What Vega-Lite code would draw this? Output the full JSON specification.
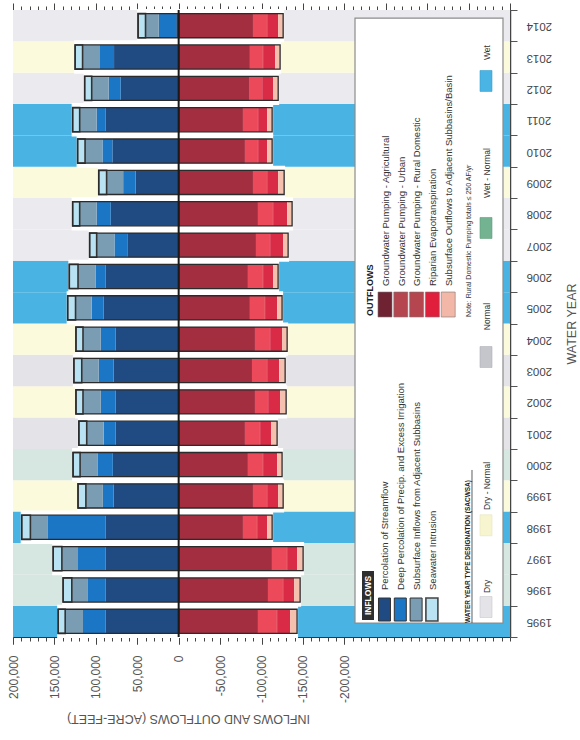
{
  "$schema": "https://vega.github.io/schema/vega-lite/v6.json",
  "width": 497,
  "height": 627,
  "autosize": {"type": "none"},
  "padding": {"left": 13, "top": 10, "right": 70, "bottom": 103},
  "background": "white",
  "config": {"view": {"stroke": null}, "font": "Liberation Sans"},
  "datasets": {
    "components": [
      {"component": "Percolation of Streamflow", "rank": 1},
      {"component": "Deep Percolation of Precip. and Excess Irrigation", "rank": 2},
      {"component": "Subsurface Inflows from Adjacent Subbasins", "rank": 3},
      {"component": "Seawater Intrusion", "rank": 4},
      {"component": "Groundwater Pumping - Agricultural", "rank": 1},
      {"component": "Groundwater Pumping - Urban", "rank": 2},
      {"component": "Groundwater Pumping - Rural Domestic", "rank": 3},
      {"component": "Riparian Evapotranspiration", "rank": 4},
      {"component": "Subsurface Outflows to Adjacent Subbasins/Basin", "rank": 5}
    ],
    "years": [
      {"year": 1995, "type": "Wet"}, {"year": 1996, "type": "Wet - Normal"}, {"year": 1997, "type": "Wet - Normal"},
      {"year": 1998, "type": "Wet"}, {"year": 1999, "type": "Dry - Normal"}, {"year": 2000, "type": "Wet - Normal"},
      {"year": 2001, "type": "Normal"}, {"year": 2002, "type": "Dry - Normal"}, {"year": 2003, "type": "Normal"},
      {"year": 2004, "type": "Dry - Normal"}, {"year": 2005, "type": "Wet"}, {"year": 2006, "type": "Wet"},
      {"year": 2007, "type": "Dry"}, {"year": 2008, "type": "Dry"}, {"year": 2009, "type": "Dry - Normal"},
      {"year": 2010, "type": "Wet"}, {"year": 2011, "type": "Wet"}, {"year": 2012, "type": "Dry"},
      {"year": 2013, "type": "Dry - Normal"}, {"year": 2014, "type": "Dry"}
    ],
    "flows": [
      {"year":1995,"flow":"Inflow","component":"Percolation of Streamflow","value":88000},
      {"year":1995,"flow":"Inflow","component":"Deep Percolation of Precip. and Excess Irrigation","value":27500},
      {"year":1995,"flow":"Inflow","component":"Subsurface Inflows from Adjacent Subbasins","value":21500},
      {"year":1995,"flow":"Inflow","component":"Seawater Intrusion","value":8500},
      {"year":1995,"flow":"Outflow","component":"Groundwater Pumping - Agricultural","value":-95700},
      {"year":1995,"flow":"Outflow","component":"Groundwater Pumping - Urban","value":-22900},
      {"year":1995,"flow":"Outflow","component":"Groundwater Pumping - Rural Domestic","value":-250},
      {"year":1995,"flow":"Outflow","component":"Riparian Evapotranspiration","value":-15700},
      {"year":1995,"flow":"Outflow","component":"Subsurface Outflows to Adjacent Subbasins/Basin","value":-8400},
      {"year":1996,"flow":"Inflow","component":"Percolation of Streamflow","value":88000},
      {"year":1996,"flow":"Inflow","component":"Deep Percolation of Precip. and Excess Irrigation","value":21500},
      {"year":1996,"flow":"Inflow","component":"Subsurface Inflows from Adjacent Subbasins","value":19500},
      {"year":1996,"flow":"Inflow","component":"Seawater Intrusion","value":10500},
      {"year":1996,"flow":"Outflow","component":"Groundwater Pumping - Agricultural","value":-107800},
      {"year":1996,"flow":"Outflow","component":"Groundwater Pumping - Urban","value":-18100},
      {"year":1996,"flow":"Outflow","component":"Groundwater Pumping - Rural Domestic","value":-250},
      {"year":1996,"flow":"Outflow","component":"Riparian Evapotranspiration","value":-13300},
      {"year":1996,"flow":"Outflow","component":"Subsurface Outflows to Adjacent Subbasins/Basin","value":-7200},
      {"year":1997,"flow":"Inflow","component":"Percolation of Streamflow","value":88000},
      {"year":1997,"flow":"Inflow","component":"Deep Percolation of Precip. and Excess Irrigation","value":33500},
      {"year":1997,"flow":"Inflow","component":"Subsurface Inflows from Adjacent Subbasins","value":19500},
      {"year":1997,"flow":"Inflow","component":"Seawater Intrusion","value":10500},
      {"year":1997,"flow":"Outflow","component":"Groundwater Pumping - Agricultural","value":-112600},
      {"year":1997,"flow":"Outflow","component":"Groundwater Pumping - Urban","value":-18100},
      {"year":1997,"flow":"Outflow","component":"Groundwater Pumping - Rural Domestic","value":-250},
      {"year":1997,"flow":"Outflow","component":"Riparian Evapotranspiration","value":-12100},
      {"year":1997,"flow":"Outflow","component":"Subsurface Outflows to Adjacent Subbasins/Basin","value":-7200},
      {"year":1998,"flow":"Inflow","component":"Percolation of Streamflow","value":88000},
      {"year":1998,"flow":"Inflow","component":"Deep Percolation of Precip. and Excess Irrigation","value":70500},
      {"year":1998,"flow":"Inflow","component":"Subsurface Inflows from Adjacent Subbasins","value":20500},
      {"year":1998,"flow":"Inflow","component":"Seawater Intrusion","value":10500},
      {"year":1998,"flow":"Outflow","component":"Groundwater Pumping - Agricultural","value":-77600},
      {"year":1998,"flow":"Outflow","component":"Groundwater Pumping - Urban","value":-16900},
      {"year":1998,"flow":"Outflow","component":"Groundwater Pumping - Rural Domestic","value":-250},
      {"year":1998,"flow":"Outflow","component":"Riparian Evapotranspiration","value":-12100},
      {"year":1998,"flow":"Outflow","component":"Subsurface Outflows to Adjacent Subbasins/Basin","value":-6000},
      {"year":1999,"flow":"Inflow","component":"Percolation of Streamflow","value":78500},
      {"year":1999,"flow":"Inflow","component":"Deep Percolation of Precip. and Excess Irrigation","value":13000},
      {"year":1999,"flow":"Inflow","component":"Subsurface Inflows from Adjacent Subbasins","value":20500},
      {"year":1999,"flow":"Inflow","component":"Seawater Intrusion","value":9500},
      {"year":1999,"flow":"Outflow","component":"Groundwater Pumping - Agricultural","value":-89700},
      {"year":1999,"flow":"Outflow","component":"Groundwater Pumping - Urban","value":-16900},
      {"year":1999,"flow":"Outflow","component":"Groundwater Pumping - Rural Domestic","value":-250},
      {"year":1999,"flow":"Outflow","component":"Riparian Evapotranspiration","value":-13300},
      {"year":1999,"flow":"Outflow","component":"Subsurface Outflows to Adjacent Subbasins/Basin","value":-6000},
      {"year":2000,"flow":"Inflow","component":"Percolation of Streamflow","value":79500},
      {"year":2000,"flow":"Inflow","component":"Deep Percolation of Precip. and Excess Irrigation","value":18000},
      {"year":2000,"flow":"Inflow","component":"Subsurface Inflows from Adjacent Subbasins","value":21500},
      {"year":2000,"flow":"Inflow","component":"Seawater Intrusion","value":8500},
      {"year":2000,"flow":"Outflow","component":"Groundwater Pumping - Agricultural","value":-83600},
      {"year":2000,"flow":"Outflow","component":"Groundwater Pumping - Urban","value":-18100},
      {"year":2000,"flow":"Outflow","component":"Groundwater Pumping - Rural Domestic","value":-250},
      {"year":2000,"flow":"Outflow","component":"Riparian Evapotranspiration","value":-16900},
      {"year":2000,"flow":"Outflow","component":"Subsurface Outflows to Adjacent Subbasins/Basin","value":-6000},
      {"year":2001,"flow":"Inflow","component":"Percolation of Streamflow","value":76000},
      {"year":2001,"flow":"Inflow","component":"Deep Percolation of Precip. and Excess Irrigation","value":14500},
      {"year":2001,"flow":"Inflow","component":"Subsurface Inflows from Adjacent Subbasins","value":20500},
      {"year":2001,"flow":"Inflow","component":"Seawater Intrusion","value":9500},
      {"year":2001,"flow":"Outflow","component":"Groundwater Pumping - Agricultural","value":-80000},
      {"year":2001,"flow":"Outflow","component":"Groundwater Pumping - Urban","value":-18100},
      {"year":2001,"flow":"Outflow","component":"Groundwater Pumping - Rural Domestic","value":-250},
      {"year":2001,"flow":"Outflow","component":"Riparian Evapotranspiration","value":-13300},
      {"year":2001,"flow":"Outflow","component":"Subsurface Outflows to Adjacent Subbasins/Basin","value":-7200},
      {"year":2002,"flow":"Inflow","component":"Percolation of Streamflow","value":76000},
      {"year":2002,"flow":"Inflow","component":"Deep Percolation of Precip. and Excess Irrigation","value":18000},
      {"year":2002,"flow":"Inflow","component":"Subsurface Inflows from Adjacent Subbasins","value":21500},
      {"year":2002,"flow":"Inflow","component":"Seawater Intrusion","value":8500},
      {"year":2002,"flow":"Outflow","component":"Groundwater Pumping - Agricultural","value":-92100},
      {"year":2002,"flow":"Outflow","component":"Groundwater Pumping - Urban","value":-15700},
      {"year":2002,"flow":"Outflow","component":"Groundwater Pumping - Rural Domestic","value":-250},
      {"year":2002,"flow":"Outflow","component":"Riparian Evapotranspiration","value":-14500},
      {"year":2002,"flow":"Outflow","component":"Subsurface Outflows to Adjacent Subbasins/Basin","value":-7200},
      {"year":2003,"flow":"Inflow","component":"Percolation of Streamflow","value":78500},
      {"year":2003,"flow":"Inflow","component":"Deep Percolation of Precip. and Excess Irrigation","value":18000},
      {"year":2003,"flow":"Inflow","component":"Subsurface Inflows from Adjacent Subbasins","value":20500},
      {"year":2003,"flow":"Inflow","component":"Seawater Intrusion","value":9500},
      {"year":2003,"flow":"Outflow","component":"Groundwater Pumping - Agricultural","value":-88500},
      {"year":2003,"flow":"Outflow","component":"Groundwater Pumping - Urban","value":-18100},
      {"year":2003,"flow":"Outflow","component":"Groundwater Pumping - Rural Domestic","value":-250},
      {"year":2003,"flow":"Outflow","component":"Riparian Evapotranspiration","value":-14500},
      {"year":2003,"flow":"Outflow","component":"Subsurface Outflows to Adjacent Subbasins/Basin","value":-7200},
      {"year":2004,"flow":"Inflow","component":"Percolation of Streamflow","value":76000},
      {"year":2004,"flow":"Inflow","component":"Deep Percolation of Precip. and Excess Irrigation","value":18000},
      {"year":2004,"flow":"Inflow","component":"Subsurface Inflows from Adjacent Subbasins","value":21500},
      {"year":2004,"flow":"Inflow","component":"Seawater Intrusion","value":8500},
      {"year":2004,"flow":"Outflow","component":"Groundwater Pumping - Agricultural","value":-92100},
      {"year":2004,"flow":"Outflow","component":"Groundwater Pumping - Urban","value":-18100},
      {"year":2004,"flow":"Outflow","component":"Groundwater Pumping - Rural Domestic","value":-250},
      {"year":2004,"flow":"Outflow","component":"Riparian Evapotranspiration","value":-14500},
      {"year":2004,"flow":"Outflow","component":"Subsurface Outflows to Adjacent Subbasins/Basin","value":-6000},
      {"year":2005,"flow":"Inflow","component":"Percolation of Streamflow","value":90500},
      {"year":2005,"flow":"Inflow","component":"Deep Percolation of Precip. and Excess Irrigation","value":14500},
      {"year":2005,"flow":"Inflow","component":"Subsurface Inflows from Adjacent Subbasins","value":19500},
      {"year":2005,"flow":"Inflow","component":"Seawater Intrusion","value":9500},
      {"year":2005,"flow":"Outflow","component":"Groundwater Pumping - Agricultural","value":-86000},
      {"year":2005,"flow":"Outflow","component":"Groundwater Pumping - Urban","value":-18100},
      {"year":2005,"flow":"Outflow","component":"Groundwater Pumping - Rural Domestic","value":-250},
      {"year":2005,"flow":"Outflow","component":"Riparian Evapotranspiration","value":-14500},
      {"year":2005,"flow":"Outflow","component":"Subsurface Outflows to Adjacent Subbasins/Basin","value":-6000},
      {"year":2006,"flow":"Inflow","component":"Percolation of Streamflow","value":88000},
      {"year":2006,"flow":"Inflow","component":"Deep Percolation of Precip. and Excess Irrigation","value":12000},
      {"year":2006,"flow":"Inflow","component":"Subsurface Inflows from Adjacent Subbasins","value":21500},
      {"year":2006,"flow":"Inflow","component":"Seawater Intrusion","value":10500},
      {"year":2006,"flow":"Outflow","component":"Groundwater Pumping - Agricultural","value":-83600},
      {"year":2006,"flow":"Outflow","component":"Groundwater Pumping - Urban","value":-18100},
      {"year":2006,"flow":"Outflow","component":"Groundwater Pumping - Rural Domestic","value":-250},
      {"year":2006,"flow":"Outflow","component":"Riparian Evapotranspiration","value":-12100},
      {"year":2006,"flow":"Outflow","component":"Subsurface Outflows to Adjacent Subbasins/Basin","value":-6000},
      {"year":2007,"flow":"Inflow","component":"Percolation of Streamflow","value":62000},
      {"year":2007,"flow":"Inflow","component":"Deep Percolation of Precip. and Excess Irrigation","value":15500},
      {"year":2007,"flow":"Inflow","component":"Subsurface Inflows from Adjacent Subbasins","value":21500},
      {"year":2007,"flow":"Inflow","component":"Seawater Intrusion","value":8500},
      {"year":2007,"flow":"Outflow","component":"Groundwater Pumping - Agricultural","value":-93300},
      {"year":2007,"flow":"Outflow","component":"Groundwater Pumping - Urban","value":-16900},
      {"year":2007,"flow":"Outflow","component":"Groundwater Pumping - Rural Domestic","value":-250},
      {"year":2007,"flow":"Outflow","component":"Riparian Evapotranspiration","value":-15700},
      {"year":2007,"flow":"Outflow","component":"Subsurface Outflows to Adjacent Subbasins/Basin","value":-6000},
      {"year":2008,"flow":"Inflow","component":"Percolation of Streamflow","value":82000},
      {"year":2008,"flow":"Inflow","component":"Deep Percolation of Precip. and Excess Irrigation","value":17000},
      {"year":2008,"flow":"Inflow","component":"Subsurface Inflows from Adjacent Subbasins","value":20500},
      {"year":2008,"flow":"Inflow","component":"Seawater Intrusion","value":8500},
      {"year":2008,"flow":"Outflow","component":"Groundwater Pumping - Agricultural","value":-95700},
      {"year":2008,"flow":"Outflow","component":"Groundwater Pumping - Urban","value":-18100},
      {"year":2008,"flow":"Outflow","component":"Groundwater Pumping - Rural Domestic","value":-250},
      {"year":2008,"flow":"Outflow","component":"Riparian Evapotranspiration","value":-16900},
      {"year":2008,"flow":"Outflow","component":"Subsurface Outflows to Adjacent Subbasins/Basin","value":-6000},
      {"year":2009,"flow":"Inflow","component":"Percolation of Streamflow","value":52000},
      {"year":2009,"flow":"Inflow","component":"Deep Percolation of Precip. and Excess Irrigation","value":15000},
      {"year":2009,"flow":"Inflow","component":"Subsurface Inflows from Adjacent Subbasins","value":20000},
      {"year":2009,"flow":"Inflow","component":"Seawater Intrusion","value":9500},
      {"year":2009,"flow":"Outflow","component":"Groundwater Pumping - Agricultural","value":-89700},
      {"year":2009,"flow":"Outflow","component":"Groundwater Pumping - Urban","value":-16900},
      {"year":2009,"flow":"Outflow","component":"Groundwater Pumping - Rural Domestic","value":-250},
      {"year":2009,"flow":"Outflow","component":"Riparian Evapotranspiration","value":-13300},
      {"year":2009,"flow":"Outflow","component":"Subsurface Outflows to Adjacent Subbasins/Basin","value":-7200},
      {"year":2010,"flow":"Inflow","component":"Percolation of Streamflow","value":80000},
      {"year":2010,"flow":"Inflow","component":"Deep Percolation of Precip. and Excess Irrigation","value":12000},
      {"year":2010,"flow":"Inflow","component":"Subsurface Inflows from Adjacent Subbasins","value":21000},
      {"year":2010,"flow":"Inflow","component":"Seawater Intrusion","value":9000},
      {"year":2010,"flow":"Outflow","component":"Groundwater Pumping - Agricultural","value":-80000},
      {"year":2010,"flow":"Outflow","component":"Groundwater Pumping - Urban","value":-15700},
      {"year":2010,"flow":"Outflow","component":"Groundwater Pumping - Rural Domestic","value":-250},
      {"year":2010,"flow":"Outflow","component":"Riparian Evapotranspiration","value":-10900},
      {"year":2010,"flow":"Outflow","component":"Subsurface Outflows to Adjacent Subbasins/Basin","value":-6000},
      {"year":2011,"flow":"Inflow","component":"Percolation of Streamflow","value":88000},
      {"year":2011,"flow":"Inflow","component":"Deep Percolation of Precip. and Excess Irrigation","value":11000},
      {"year":2011,"flow":"Inflow","component":"Subsurface Inflows from Adjacent Subbasins","value":20500},
      {"year":2011,"flow":"Inflow","component":"Seawater Intrusion","value":8500},
      {"year":2011,"flow":"Outflow","component":"Groundwater Pumping - Agricultural","value":-77600},
      {"year":2011,"flow":"Outflow","component":"Groundwater Pumping - Urban","value":-18100},
      {"year":2011,"flow":"Outflow","component":"Groundwater Pumping - Rural Domestic","value":-250},
      {"year":2011,"flow":"Outflow","component":"Riparian Evapotranspiration","value":-10900},
      {"year":2011,"flow":"Outflow","component":"Subsurface Outflows to Adjacent Subbasins/Basin","value":-6000},
      {"year":2012,"flow":"Inflow","component":"Percolation of Streamflow","value":70000},
      {"year":2012,"flow":"Inflow","component":"Deep Percolation of Precip. and Excess Irrigation","value":14500},
      {"year":2012,"flow":"Inflow","component":"Subsurface Inflows from Adjacent Subbasins","value":20500},
      {"year":2012,"flow":"Inflow","component":"Seawater Intrusion","value":8500},
      {"year":2012,"flow":"Outflow","component":"Groundwater Pumping - Agricultural","value":-84900},
      {"year":2012,"flow":"Outflow","component":"Groundwater Pumping - Urban","value":-15700},
      {"year":2012,"flow":"Outflow","component":"Groundwater Pumping - Rural Domestic","value":-250},
      {"year":2012,"flow":"Outflow","component":"Riparian Evapotranspiration","value":-13300},
      {"year":2012,"flow":"Outflow","component":"Subsurface Outflows to Adjacent Subbasins/Basin","value":-6000},
      {"year":2013,"flow":"Inflow","component":"Percolation of Streamflow","value":78000},
      {"year":2013,"flow":"Inflow","component":"Deep Percolation of Precip. and Excess Irrigation","value":17000},
      {"year":2013,"flow":"Inflow","component":"Subsurface Inflows from Adjacent Subbasins","value":21000},
      {"year":2013,"flow":"Inflow","component":"Seawater Intrusion","value":9000},
      {"year":2013,"flow":"Outflow","component":"Groundwater Pumping - Agricultural","value":-86000},
      {"year":2013,"flow":"Outflow","component":"Groundwater Pumping - Urban","value":-15700},
      {"year":2013,"flow":"Outflow","component":"Groundwater Pumping - Rural Domestic","value":-250},
      {"year":2013,"flow":"Outflow","component":"Riparian Evapotranspiration","value":-14500},
      {"year":2013,"flow":"Outflow","component":"Subsurface Outflows to Adjacent Subbasins/Basin","value":-6000},
      {"year":2014,"flow":"Inflow","component":"Percolation of Streamflow","value":3000},
      {"year":2014,"flow":"Inflow","component":"Deep Percolation of Precip. and Excess Irrigation","value":21000},
      {"year":2014,"flow":"Inflow","component":"Subsurface Inflows from Adjacent Subbasins","value":16000},
      {"year":2014,"flow":"Inflow","component":"Seawater Intrusion","value":9000},
      {"year":2014,"flow":"Outflow","component":"Groundwater Pumping - Agricultural","value":-89700},
      {"year":2014,"flow":"Outflow","component":"Groundwater Pumping - Urban","value":-16900},
      {"year":2014,"flow":"Outflow","component":"Groundwater Pumping - Rural Domestic","value":-250},
      {"year":2014,"flow":"Outflow","component":"Riparian Evapotranspiration","value":-13300},
      {"year":2014,"flow":"Outflow","component":"Subsurface Outflows to Adjacent Subbasins/Basin","value":-6000}
    ]
  },
  "layer": [
    {
      "layer": [
        {
          "data": {"name": "years"},
          "mark": {"type": "bar", "height": {"band": 1}, "opacity": 1},
          "encoding": {
            "y": {
              "field": "year", "type": "ordinal",
              "scale": {"domain": [2014,2013,2012,2011,2010,2009,2008,2007,2006,2005,2004,2003,2002,2001,2000,1999,1998,1997,1996,1995], "paddingInner": 0, "paddingOuter": 0},
              "axis": {
                "orient": "right", "labelAngle": 180, "labelAlign": "right", "labelBaseline": "middle",
                "labelFontSize": 11.5, "labelColor": "#444", "labelFont": "Liberation Sans", "labelPadding": 9,
                "tickSize": 7, "tickBand": "extent", "tickColor": "#555", "domainColor": "#444", "domainWidth": 1.5,
                "title": "WATER YEAR", "titleAngle": 270, "titleFontSize": 12.5, "titleFontWeight": "normal",
                "titleColor": "#555", "titleFont": "Liberation Sans", "titleX": 61, "titleY": 313.5,
                "titleBaseline": "middle", "titleAlign": "center"
              }
            },
            "x": {"datum": 200000, "type": "quantitative", "scale": {"domain": [-400000, 200000], "reverse": true, "nice": false, "zero": false}},
            "x2": {"datum": -400000},
            "fill": {
              "field": "type", "type": "nominal",
              "scale": {"domain": ["Dry", "Dry - Normal", "Normal", "Wet - Normal", "Wet"], "range": ["#ebeaee", "#fbfadc", "#e4e4e8", "#d6e7e1", "#49b4e4"]},
              "legend": null
            }
          }
        },
        {
          "data": {"name": "flows"},
          "transform": [{"aggregate": [{"op": "sum", "field": "value", "as": "total"}], "groupby": ["year", "flow"]}],
          "mark": {"type": "bar", "height": {"band": 1}, "color": "white", "stroke": "white", "strokeWidth": 2, "opacity": 1},
          "encoding": {
            "y": {"field": "year", "type": "ordinal"},
            "x": {"field": "total", "type": "quantitative", "stack": null}
          }
        },
        {
          "data": {"name": "flows"},
          "transform": [{"lookup": "component", "from": {"data": {"name": "components"}, "key": "component", "fields": ["rank"]}}],
          "mark": {"type": "bar", "height": {"band": 0.77}, "opacity": 1, "strokeWidth": 1.6},
          "encoding": {
            "y": {"field": "year", "type": "ordinal"},
            "x": {
              "field": "value", "type": "quantitative", "stack": "zero",
              "scale": {"domain": [-400000, 200000], "reverse": true, "nice": false, "zero": false},
              "axis": {
                "orient": "bottom",
                "values": [-200000, -150000, -100000, -50000, 0, 50000, 100000, 150000, 200000],
                "labels": false,
                "tickSize": 7, "tickColor": "#444", "domainColor": "#333", "domainWidth": 1.2, "grid": false,
                "title": "INFLOWS AND OUTFLOWS (ACRE-FEET)", "titleAngle": 180, "titleFontSize": 12.5,
                "titleFontWeight": "normal", "titleColor": "#555", "titleFont": "Liberation Sans",
                "titleX": 175, "titleY": 81, "titleBaseline": "middle", "titleAlign": "center"
              }
            },
            "color": {
              "field": "component", "type": "nominal",
              "scale": {
                "domain": ["Percolation of Streamflow", "Deep Percolation of Precip. and Excess Irrigation", "Subsurface Inflows from Adjacent Subbasins", "Seawater Intrusion", "Groundwater Pumping - Agricultural", "Groundwater Pumping - Urban", "Groundwater Pumping - Rural Domestic", "Riparian Evapotranspiration", "Subsurface Outflows to Adjacent Subbasins/Basin"],
                "range": ["#204b82", "#1c76c6", "#7b9db3", "#b9e3f3", "#a22e40", "#ec4a5a", "#c4404d", "#d92a46", "#f6c0ae"]
              },
              "legend": null
            },
            "order": {"field": "rank", "type": "quantitative"},
            "stroke": {"condition": {"test": "datum.component === 'Seawater Intrusion'", "value": "#333333"}, "value": "transparent"}
          }
        },
        {
          "data": {"name": "flows"},
          "transform": [{"aggregate": [{"op": "sum", "field": "value", "as": "total"}], "groupby": ["year", "flow"]}],
          "mark": {"type": "bar", "height": {"band": 0.77}, "fill": "transparent", "stroke": "#2b2b2b", "strokeWidth": 1.3, "opacity": 1},
          "encoding": {
            "y": {"field": "year", "type": "ordinal"},
            "x": {"field": "total", "type": "quantitative", "stack": null}
          }
        },
        {
          "data": {"values": [{}]},
          "mark": {"type": "point", "shape": "M-0.2446,-1H0.2446V1H-0.2446Z", "size": 366025, "filled": true, "fill": "white", "stroke": "#8c8c8c", "strokeWidth": 1.2, "opacity": 1, "yOffset": 12.7},
          "encoding": {"x": {"datum": -302212, "type": "quantitative"}, "y": {"datum": 2005, "type": "ordinal"}}
        },
        {
          "data": {"values": [{}]},
          "mark": {"type": "point", "shape": "M-0.245,-1H0.245V1H-0.245Z", "size": 2401, "filled": true, "fill": "#2e2e2e", "strokeWidth": 0, "opacity": 1, "yOffset": 5.5},
          "encoding": {"x": {"datum": -228570, "type": "quantitative"}, "y": {"datum": 1996, "type": "ordinal"}}
        },
        {
          "data": {"values": [{}]},
          "mark": {"type": "text", "text": "INFLOWS", "angle": 270, "align": "center", "baseline": "middle", "font": "Liberation Sans", "fontSize": 8.5, "fontWeight": "bold", "color": "white", "yOffset": 5.5},
          "encoding": {"x": {"datum": -228570, "type": "quantitative"}, "y": {"datum": 1996, "type": "ordinal"}}
        },
        {
          "data": {"values": [{}]},
          "mark": {"type": "point", "shape": "M-0.5217,-1H0.5217V1H-0.5217Z", "size": 529, "filled": true, "fill": "#204b82", "stroke": "#333", "strokeWidth": 1, "opacity": 1, "yOffset": -11.8},
          "encoding": {"x": {"datum": -248490, "type": "quantitative"}, "y": {"datum": 1995, "type": "ordinal"}}
        },
        {
          "data": {"values": [{}]},
          "mark": {"type": "point", "shape": "M-0.5217,-1H0.5217V1H-0.5217Z", "size": 529, "filled": true, "fill": "#1c76c6", "stroke": "#333", "strokeWidth": 1, "opacity": 1, "yOffset": -11.8},
          "encoding": {"x": {"datum": -267564, "type": "quantitative"}, "y": {"datum": 1995, "type": "ordinal"}}
        },
        {
          "data": {"values": [{}]},
          "mark": {"type": "point", "shape": "M-0.5217,-1H0.5217V1H-0.5217Z", "size": 529, "filled": true, "fill": "#7b9db3", "stroke": "#333", "strokeWidth": 1, "opacity": 1, "yOffset": -11.8},
          "encoding": {"x": {"datum": -286638, "type": "quantitative"}, "y": {"datum": 1995, "type": "ordinal"}}
        },
        {
          "data": {"values": [{}]},
          "mark": {"type": "point", "shape": "M-0.5217,-1H0.5217V1H-0.5217Z", "size": 529, "filled": true, "fill": "#b9e3f3", "stroke": "#444", "strokeWidth": 1.6, "opacity": 1, "yOffset": -11.8},
          "encoding": {"x": {"datum": -305713, "type": "quantitative"}, "y": {"datum": 1995, "type": "ordinal"}}
        },
        {
          "data": {"values": [{}]},
          "mark": {"type": "text", "text": ["Percolation of Streamflow", "Deep Percolation of Precip. and Excess Irrigation", "Subsurface Inflows from Adjacent Subbasins", "Seawater Intrusion"], "lineHeight": 15.8, "angle": 270, "align": "left", "baseline": "top", "font": "Liberation Sans", "fontSize": 9.5, "color": "#333"},
          "encoding": {"x": {"datum": -243540, "type": "quantitative"}, "y": {"datum": 1996, "type": "ordinal"}}
        },
        {
          "data": {"values": [{}]},
          "mark": {"type": "text", "text": "OUTFLOWS", "angle": 270, "align": "left", "baseline": "middle", "font": "Liberation Sans", "fontSize": 9, "fontWeight": "bold", "color": "#222", "yOffset": 8.2},
          "encoding": {"x": {"datum": -230985, "type": "quantitative"}, "y": {"datum": 2005, "type": "ordinal"}}
        },
        {
          "data": {"values": [{}]},
          "mark": {"type": "point", "shape": "M-0.56,-1H0.56V1H-0.56Z", "size": 625, "filled": true, "fill": "#6e2232", "stroke": "#777", "strokeWidth": 0.6, "opacity": 1, "yOffset": -3.3},
          "encoding": {"x": {"datum": -249093, "type": "quantitative"}, "y": {"datum": 2005, "type": "ordinal"}}
        },
        {
          "data": {"values": [{}]},
          "mark": {"type": "point", "shape": "M-0.56,-1H0.56V1H-0.56Z", "size": 625, "filled": true, "fill": "#b5454f", "stroke": "#777", "strokeWidth": 0.6, "opacity": 1, "yOffset": -3.3},
          "encoding": {"x": {"datum": -268168, "type": "quantitative"}, "y": {"datum": 2005, "type": "ordinal"}}
        },
        {
          "data": {"values": [{}]},
          "mark": {"type": "point", "shape": "M-0.56,-1H0.56V1H-0.56Z", "size": 625, "filled": true, "fill": "#b5454f", "stroke": "#777", "strokeWidth": 0.6, "opacity": 1, "yOffset": -3.3},
          "encoding": {"x": {"datum": -287242, "type": "quantitative"}, "y": {"datum": 2005, "type": "ordinal"}}
        },
        {
          "data": {"values": [{}]},
          "mark": {"type": "point", "shape": "M-0.56,-1H0.56V1H-0.56Z", "size": 625, "filled": true, "fill": "#e01f3d", "stroke": "#777", "strokeWidth": 0.6, "opacity": 1, "yOffset": -3.3},
          "encoding": {"x": {"datum": -306317, "type": "quantitative"}, "y": {"datum": 2005, "type": "ordinal"}}
        },
        {
          "data": {"values": [{}]},
          "mark": {"type": "point", "shape": "M-0.56,-1H0.56V1H-0.56Z", "size": 625, "filled": true, "fill": "#f2b7a6", "stroke": "#777", "strokeWidth": 0.6, "opacity": 1, "yOffset": -3.3},
          "encoding": {"x": {"datum": -325391, "type": "quantitative"}, "y": {"datum": 2005, "type": "ordinal"}}
        },
        {
          "data": {"values": [{}]},
          "mark": {"type": "text", "text": ["Groundwater Pumping - Agricultural", "Groundwater Pumping - Urban", "Groundwater Pumping - Rural Domestic", "Riparian Evapotranspiration", "Subsurface Outflows to Adjacent Subbasins/Basin"], "lineHeight": 15.8, "angle": 270, "align": "left", "baseline": "top", "font": "Liberation Sans", "fontSize": 9.5, "color": "#333", "yOffset": -21.8},
          "encoding": {"x": {"datum": -244144, "type": "quantitative"}, "y": {"datum": 2005, "type": "ordinal"}}
        },
        {
          "data": {"values": [{}]},
          "mark": {"type": "text", "text": "Note: Rural Domestic Pumping totals ≤ 250 AF/yr", "angle": 270, "align": "left", "baseline": "middle", "font": "Liberation Sans", "fontSize": 7, "color": "#333", "yOffset": 9.2},
          "encoding": {"x": {"datum": -350501, "type": "quantitative"}, "y": {"datum": 2005, "type": "ordinal"}}
        },
        {
          "data": {"values": [{}]},
          "mark": {"type": "text", "text": "WATER YEAR TYPE DESIGNATION (SACWSA)", "angle": 270, "align": "left", "baseline": "middle", "font": "Liberation Sans", "fontSize": 6.5, "fontWeight": "bold", "color": "#222", "yOffset": 1.7},
          "encoding": {"x": {"datum": -349294, "type": "quantitative"}, "y": {"datum": 1995, "type": "ordinal"}}
        },
        {
          "data": {"values": [{}]},
          "mark": {"type": "rule", "color": "#333", "strokeWidth": 0.8, "yOffset": 1.7, "y2Offset": 5.4},
          "encoding": {"x": {"datum": -354123, "type": "quantitative"}, "y": {"datum": 1995, "type": "ordinal"}, "y2": {"datum": 2000}}
        },
        {
          "data": {"values": [{}]},
          "mark": {"type": "point", "shape": "M-0.571,-1H0.571V1H-0.571Z", "size": 441, "filled": true, "fill": "#e3e3e8", "stroke": "#c8c8cc", "strokeWidth": 0.6, "opacity": 1, "yOffset": -14.3},
          "encoding": {"x": {"datum": -371025, "type": "quantitative"}, "y": {"datum": 1995, "type": "ordinal"}}
        },
        {
          "data": {"values": [{}]},
          "mark": {"type": "point", "shape": "M-0.571,-1H0.571V1H-0.571Z", "size": 441, "filled": true, "fill": "#f7f5cf", "stroke": "#e6e4c0", "strokeWidth": 0.6, "opacity": 1, "yOffset": -2},
          "encoding": {"x": {"datum": -371025, "type": "quantitative"}, "y": {"datum": 1998, "type": "ordinal"}}
        },
        {
          "data": {"values": [{}]},
          "mark": {"type": "point", "shape": "M-0.571,-1H0.571V1H-0.571Z", "size": 441, "filled": true, "fill": "#c5c5cc", "stroke": "#b0b0b8", "strokeWidth": 0.6, "opacity": 1, "yOffset": -13.5},
          "encoding": {"x": {"datum": -371025, "type": "quantitative"}, "y": {"datum": 2003, "type": "ordinal"}}
        },
        {
          "data": {"values": [{}]},
          "mark": {"type": "point", "shape": "M-0.571,-1H0.571V1H-0.571Z", "size": 441, "filled": true, "fill": "#74b392", "stroke": "#5f9e7e", "strokeWidth": 0.6, "opacity": 1, "yOffset": 14.2},
          "encoding": {"x": {"datum": -371025, "type": "quantitative"}, "y": {"datum": 2008, "type": "ordinal"}}
        },
        {
          "data": {"values": [{}]},
          "mark": {"type": "point", "shape": "M-0.571,-1H0.571V1H-0.571Z", "size": 441, "filled": true, "fill": "#4ab4e4", "stroke": "#3a9fcd", "strokeWidth": 0.6, "opacity": 1, "yOffset": -7.4},
          "encoding": {"x": {"datum": -371025, "type": "quantitative"}, "y": {"datum": 2012, "type": "ordinal"}}
        },
        {
          "data": {"values": [{}]},
          "mark": {"type": "text", "text": "Dry", "angle": 270, "align": "left", "baseline": "middle", "font": "Liberation Sans", "fontSize": 8.5, "color": "#333", "yOffset": 3},
          "encoding": {"x": {"datum": -372232, "type": "quantitative"}, "y": {"datum": 1996, "type": "ordinal"}}
        },
        {
          "data": {"values": [{}]},
          "mark": {"type": "text", "text": "Dry - Normal", "angle": 270, "align": "left", "baseline": "middle", "font": "Liberation Sans", "fontSize": 8.5, "color": "#333", "yOffset": 14},
          "encoding": {"x": {"datum": -372232, "type": "quantitative"}, "y": {"datum": 1999, "type": "ordinal"}}
        },
        {
          "data": {"values": [{}]},
          "mark": {"type": "text", "text": "Normal", "angle": 270, "align": "left", "baseline": "middle", "font": "Liberation Sans", "fontSize": 8.5, "color": "#333", "yOffset": -9},
          "encoding": {"x": {"datum": -372232, "type": "quantitative"}, "y": {"datum": 2004, "type": "ordinal"}}
        },
        {
          "data": {"values": [{}]},
          "mark": {"type": "text", "text": "Wet - Normal", "angle": 270, "align": "left", "baseline": "middle", "font": "Liberation Sans", "fontSize": 8.5, "color": "#333", "yOffset": -15.8},
          "encoding": {"x": {"datum": -372232, "type": "quantitative"}, "y": {"datum": 2008, "type": "ordinal"}}
        },
        {
          "data": {"values": [{}]},
          "mark": {"type": "text", "text": "Wet", "angle": 270, "align": "left", "baseline": "middle", "font": "Liberation Sans", "fontSize": 8.5, "color": "#333", "yOffset": 3},
          "encoding": {"x": {"datum": -372232, "type": "quantitative"}, "y": {"datum": 2013, "type": "ordinal"}}
        }
      ]
    },
    {
      "data": {"values": [{}]},
      "mark": {"type": "rule", "color": "#1a1a1a", "strokeWidth": 2},
      "encoding": {
        "x": {
          "datum": 0, "type": "quantitative",
          "axis": {
            "orient": "top",
            "values": [-400000,-390000,-380000,-370000,-360000,-350000,-340000,-330000,-320000,-310000,-300000,-290000,-280000,-270000,-260000,-250000,-240000,-230000,-220000,-210000,-200000,-190000,-180000,-170000,-160000,-150000,-140000,-130000,-120000,-110000,-100000,-90000,-80000,-70000,-60000,-50000,-40000,-30000,-20000,-10000,0,10000,20000,30000,40000,50000,60000,70000,80000,90000,100000,110000,120000,130000,140000,150000,160000,170000,180000,190000,200000],
            "labels": false, "title": null, "grid": false,
            "tickSize": {"condition": {"test": "datum.value % 50000 === 0", "value": 7}, "value": 4},
            "tickColor": "#444", "domainColor": "#333", "domainWidth": 1.2
          }
        }
      }
    },
    {
      "data": {"values": [{}]},
      "mark": {"type": "rule", "opacity": 0},
      "encoding": {
        "x": {
          "datum": 0, "type": "quantitative",
          "axis": {
            "orient": "bottom",
            "values": [-400000,-390000,-380000,-370000,-360000,-350000,-340000,-330000,-320000,-310000,-300000,-290000,-280000,-270000,-260000,-250000,-240000,-230000,-220000,-210000,-190000,-180000,-170000,-160000,-140000,-130000,-120000,-110000,-90000,-80000,-70000,-60000,-40000,-30000,-20000,-10000,10000,20000,30000,40000,60000,70000,80000,90000,110000,120000,130000,140000,160000,170000,180000,190000],
            "labels": false, "title": null, "grid": false, "domain": false,
            "tickSize": 4, "tickColor": "#444"
          }
        }
      }
    },
    {
      "data": {"name": "flows"},
      "mark": {"type": "rule", "opacity": 0},
      "encoding": {
        "x": {
          "field": "value", "type": "quantitative",
          "axis": {
            "orient": "bottom",
            "values": [-200000, -150000, -100000, -50000, 0, 50000, 100000, 150000, 200000],
            "labelExpr": "datum.value === 200000 ? '200,000' : datum.value === 150000 ? '150,000' : datum.value === 100000 ? '100,000' : datum.value === 50000 ? '50,000' : datum.value === 0 ? '0' : datum.value === -50000 ? '-50,000' : datum.value === -100000 ? '-100,000' : datum.value === -150000 ? '-150,000' : datum.value === -200000 ? '-200,000' : ''",
            "labelAngle": 270, "labelAlign": "right", "labelBaseline": "middle",
            "labelFontSize": 12, "labelColor": "#555", "labelFont": "Liberation Sans", "labelPadding": 11,
            "labelOverlap": false, "labelFlush": false,
            "ticks": true, "tickSize": 7, "tickColor": "#444", "domain": false, "grid": false, "title": null
          }
        }
      }
    }
  ],
  "resolve": {"axis": {"x": "independent"}}
}
